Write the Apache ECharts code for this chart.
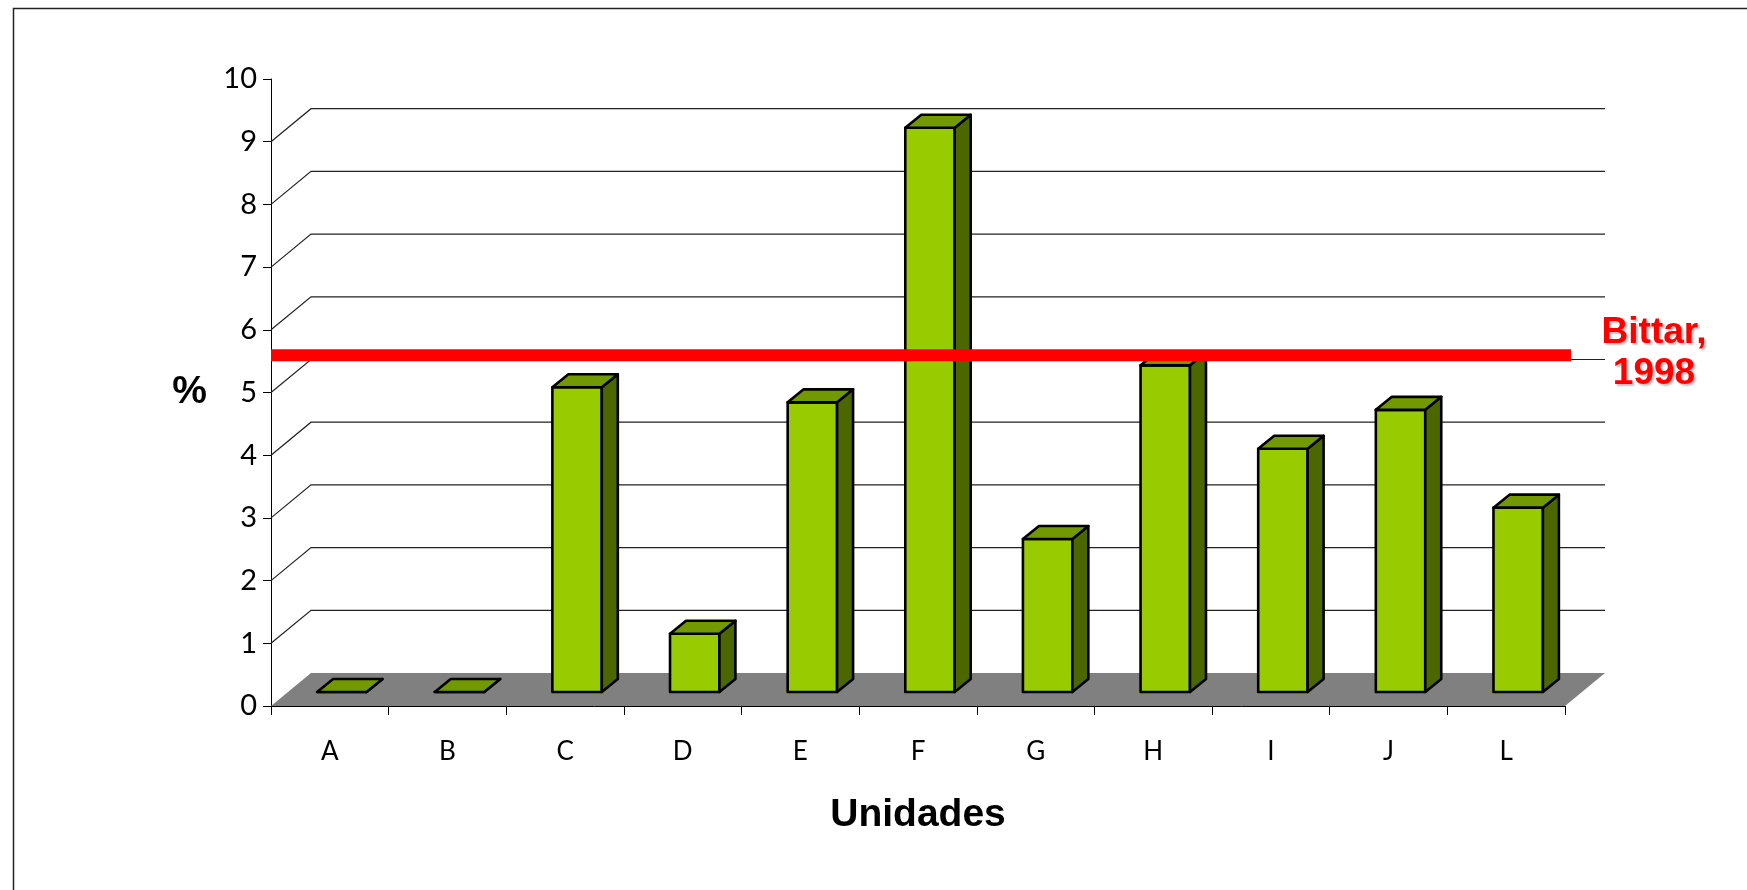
<!DOCTYPE html>
<html>
<head>
<meta charset="utf-8">
<script src="https://cdn.jsdelivr.net/npm/echarts@6/dist/echarts.min.js"></script>
<style>
html,body{margin:0;padding:0;background:#fff;}
#chart{width:1747px;height:890px;}
</style>
</head>
<body>
<div id="chart"></div>
<script>
// ---- data ----
const categories = ['A', 'B', 'C', 'D', 'E', 'F', 'G', 'H', 'I', 'J', 'L'];
const values = [0, 0, 4.86, 0.93, 4.62, 9.0, 2.44, 5.21, 3.88, 4.5, 2.94];
const gridValues = [1, 2, 3, 4, 5, 6, 7, 8, 9];
const bittarValue = 5.37;
const bittarLabel = 'Bittar,\n1998';
const xName = 'Unidades';
const yName = '%';

// ---- styles ----
const DEPTH_DX = 40, DEPTH_DY = -33;      // floor / back wall depth
const BAR_SHIFT_X = 12, BAR_SHIFT_Y = 14; // bar front face offset into depth
const BAR_DX = 16, BAR_DY = -13;          // bar thickness
const FRONT = '#99CC00', TOP = '#739900', SIDE = '#4C6600';
const LABEL_FONT = 'Lato, "Open Sans", sans-serif';
const BOLD_FONT = '"Liberation Sans", Arial, sans-serif';

const chart = echarts.init(document.getElementById('chart'), null, {renderer: 'canvas'});

function renderFloor(params, api) {
  const cs = params.coordSys;
  const y0 = api.coord([0, 0])[1];
  const xl = cs.x, xr = cs.x + cs.width;
  return {
    type: 'polygon',
    shape: {points: [[xl, y0], [xr, y0], [xr + DEPTH_DX, y0 + DEPTH_DY], [xl + DEPTH_DX, y0 + DEPTH_DY]]},
    style: {fill: '#808080', stroke: null}
  };
}

function renderGrid(params, api) {
  const cs = params.coordSys;
  const y = api.coord([0, api.value(1)])[1];
  const xl = cs.x, xr = cs.x + cs.width;
  return {
    type: 'polyline',
    shape: {points: [[xl, y], [xl + DEPTH_DX, y + DEPTH_DY], [xr + DEPTH_DX, y + DEPTH_DY]]},
    style: {stroke: '#222', lineWidth: 1.2, fill: null}
  };
}

function renderBar(params, api) {
  const i = api.value(0), v = api.value(1);
  const base = api.coord([i, 0]);
  const top = api.coord([i, v]);
  const w = api.size([1, 0])[0] * 0.42;
  const cx = base[0] + BAR_SHIFT_X;
  const yb = base[1] - BAR_SHIFT_Y;
  const yt = top[1] - BAR_SHIFT_Y;
  const x0 = cx - w / 2, x1 = cx + w / 2;
  const line = {stroke: '#000', lineWidth: 2.6, lineJoin: 'round'};
  return {
    type: 'group',
    children: [
      {type: 'polygon', shape: {points: [[x0, yb], [x1, yb], [x1, yt], [x0, yt]]}, style: Object.assign({fill: FRONT}, line)},
      {type: 'polygon', shape: {points: [[x1, yb], [x1 + BAR_DX, yb + BAR_DY], [x1 + BAR_DX, yt + BAR_DY], [x1, yt]]}, style: Object.assign({fill: SIDE}, line)},
      {type: 'polygon', shape: {points: [[x0, yt], [x1, yt], [x1 + BAR_DX, yt + BAR_DY], [x0 + BAR_DX, yt + BAR_DY]]}, style: Object.assign({fill: TOP}, line)}
    ]
  };
}

function renderRef(params, api) {
  const cs = params.coordSys;
  const y = api.coord([0, api.value(1)])[1] - BAR_SHIFT_Y;
  const xl = cs.x, xr = cs.x + cs.width + 6;
  return {
    type: 'group',
    children: [
      {type: 'line', shape: {x1: xl, y1: y, x2: xr, y2: y}, style: {stroke: '#FF0000', lineWidth: 12}},
      {type: 'text', style: {
        text: bittarLabel, x: xr + 83, y: y - 2, align: 'center', verticalAlign: 'middle',
        font: 'bold 37px ' + BOLD_FONT, fill: '#FF0000', lineHeight: 41,
        textShadowColor: 'rgba(0,0,0,0.25)', textShadowOffsetX: 2, textShadowOffsetY: 2, textShadowBlur: 2
      }}
    ]
  };
}

const option = {
  backgroundColor: '#ffffff',
  animation: false,
  graphic: [{
    type: 'rect', shape: {x: 13.5, y: 8.5, width: 1900, height: 1000},
    style: {fill: null, stroke: '#222', lineWidth: 1.5}, z: -10
  }],
  grid: {left: 271, right: 182, top: 79, bottom: 184, containLabel: false},
  xAxis: {
    type: 'category',
    data: categories,
    boundaryGap: true,
    axisLine: {show: true, lineStyle: {color: '#000', width: 1}},
    axisTick: {show: true, length: 9, inside: false, lineStyle: {color: '#000'}},
    axisLabel: {fontFamily: LABEL_FONT, fontSize: 26, color: '#000', margin: 33},
    name: xName,
    nameLocation: 'middle',
    nameGap: 90,
    nameTextStyle: {fontFamily: BOLD_FONT, fontWeight: 'bold', fontSize: 39, color: '#000'},
    splitLine: {show: false},
    z: 5
  },
  yAxis: {
    type: 'value',
    min: 0, max: 10, interval: 1,
    axisLine: {show: true, lineStyle: {color: '#000', width: 1}},
    axisTick: {show: true, length: 8, inside: false, lineStyle: {color: '#000'}},
    axisLabel: {fontFamily: LABEL_FONT, fontSize: 29, color: '#000', margin: 14},
    splitLine: {show: false},
    name: yName,
    nameLocation: 'middle',
    nameRotate: 0,
    nameGap: 64,
    nameTextStyle: {fontFamily: BOLD_FONT, fontWeight: 'bold', fontSize: 39, color: '#000'}
  },
  series: [
    {type: 'custom', name: 'floor', renderItem: renderFloor, data: [[0, 0]], clip: false, silent: true, z: 1},
    {type: 'custom', name: 'grid', renderItem: renderGrid, data: gridValues.map(v => [0, v]), clip: false, silent: true, z: 1},
    {type: 'custom', name: 'Unidades', renderItem: renderBar, data: values.map((v, i) => [i, v]), encode: {x: 0, y: 1}, clip: false, z: 3},
    {type: 'custom', name: 'Bittar, 1998', renderItem: renderRef, data: [[0, bittarValue]], clip: false, silent: true, z: 4}
  ]
};
chart.setOption(option);
</script>
</body>
</html>
